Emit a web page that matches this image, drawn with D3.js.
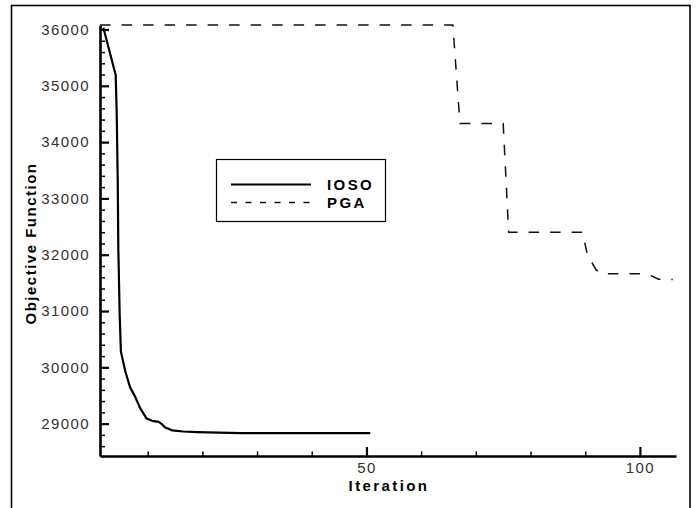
<!DOCTYPE html>
<html>
<head>
<meta charset="utf-8">
<script src="https://cdn.jsdelivr.net/npm/d3@7/dist/d3.min.js"></script>
<style>
  html, body { margin: 0; padding: 0; background: #fff; }
  svg { display: block; }
  text { font-family: "Liberation Sans", Arial, Helvetica, sans-serif; }
</style>
</head>
<body>
<svg id="chart" width="696" height="508"></svg>
<script>
// ---- data ----
const iosoIter  = [1.9, 4.15, 4.33, 4.52, 4.63, 4.88, 5.1, 5.9, 6.8, 7.7, 8.6, 9.8, 10.8, 12.0, 12.6, 13.2, 14.5, 16.5, 19, 27, 50.7];
const iosoValue = [36030, 35190, 34540, 33330, 32110, 30930, 30280, 29930, 29640, 29480, 29280, 29090, 29050, 29030, 28990, 28930, 28880, 28860, 28850, 28830, 28830];

const pgaIter  = [1.3, 65.8, 67.1, 75.0, 76.0, 89.5, 90.4, 92.0, 93.0, 100.6, 102.2, 103.4, 106.0];
const pgaValue = [36080, 36080, 34330, 34330, 32400, 32400, 32000, 31730, 31660, 31660, 31620, 31565, 31560];

const xMajorTicks = [50, 100];
const xMinorTicks = [10, 20, 30, 40, 60, 70, 80, 90];
const yMajorTicks = [29000, 30000, 31000, 32000, 33000, 34000, 35000, 36000];
const yMinorTicks = d3.range(28600, 36080, 200).filter(v => v % 1000 !== 0);

const seriesNames = ["IOSO", "PGA"];
const xTitle = "Iteration";
const yTitle = "Objective Function";

// ---- layout ----
const svg = d3.select("#chart");
const pLeft = 100, pRight = 676, pTop = 25, pBottom = 456;

const x = d3.scaleLinear().domain([1.28, 106.6]).range([pLeft, pRight]);
const y = d3.scaleLinear().domain([28425, 36080]).range([pBottom, pTop]);

// outer frame
svg.append("rect")
  .attr("x", 11.5).attr("y", 5.5)
  .attr("width", 678.5).attr("height", 530)
  .attr("fill", "#fff").attr("stroke", "#000").attr("stroke-width", 1.6);

// ---- axes ----
const yMinor = svg.append("g").attr("transform", `translate(${pLeft},0)`)
  .call(d3.axisLeft(y).tickValues(yMinorTicks).tickSizeInner(-5).tickSizeOuter(0).tickFormat(""));
yMinor.select(".domain").remove();
yMinor.selectAll("line").attr("stroke", "#000").attr("stroke-width", 1.5);

const yAxis = svg.append("g").attr("transform", `translate(${pLeft},0)`)
  .call(d3.axisLeft(y).tickValues(yMajorTicks).tickSizeInner(-9).tickSizeOuter(0).tickPadding(10).tickFormat(d3.format("d")));
yAxis.select(".domain").attr("stroke", "#000").attr("stroke-width", 2.6);
yAxis.selectAll(".tick line").attr("stroke", "#000").attr("stroke-width", 2.2);
yAxis.selectAll("text")
  .attr("font-size", 15).attr("fill", "#333")
  .style("letter-spacing", "1.4px");

const xMinor = svg.append("g").attr("transform", `translate(0,${pBottom})`)
  .call(d3.axisBottom(x).tickValues(xMinorTicks).tickSizeInner(-4.5).tickSizeOuter(0).tickFormat(""));
xMinor.select(".domain").remove();
xMinor.selectAll("line").attr("stroke", "#000").attr("stroke-width", 1.5);

const xAxis = svg.append("g").attr("transform", `translate(0,${pBottom})`)
  .call(d3.axisBottom(x).tickValues(xMajorTicks).tickSizeInner(-9).tickSizeOuter(0).tickPadding(6).tickFormat(d3.format("d")));
xAxis.select(".domain").attr("stroke", "#000").attr("stroke-width", 2.4);
xAxis.selectAll(".tick line").attr("stroke", "#000").attr("stroke-width", 2.2);
xAxis.selectAll("text")
  .attr("font-size", 15).attr("fill", "#333")
  .style("letter-spacing", "1.4px");

// axis titles
svg.append("text")
  .attr("x", (pLeft + pRight) / 2 + 1).attr("y", 491)
  .attr("text-anchor", "middle")
  .attr("font-size", 15).attr("font-weight", "bold").attr("fill", "#000")
  .style("letter-spacing", "2.4px")
  .text(xTitle);

svg.append("text")
  .attr("transform", `translate(35.5,${(pTop + pBottom) / 2 + 3}) rotate(-90)`)
  .attr("text-anchor", "middle")
  .attr("font-size", 15).attr("font-weight", "bold").attr("fill", "#000")
  .style("letter-spacing", "1.5px")
  .text(yTitle);

// ---- lines ----
const lineGen = d3.line().x(d => x(d[0])).y(d => y(d[1]));

const pgaData = pgaIter.map((it, i) => [it, pgaValue[i]]);
const iosoData = iosoIter.map((it, i) => [it, iosoValue[i]]);

svg.append("path")
  .datum(pgaData)
  .attr("d", lineGen)
  .attr("fill", "none").attr("stroke", "#111").attr("stroke-width", 1.5)
  .attr("stroke-dasharray", "10.5,11");

svg.append("path")
  .datum(iosoData)
  .attr("d", lineGen)
  .attr("fill", "none").attr("stroke", "#000").attr("stroke-width", 2.2)
  .attr("stroke-linejoin", "round");

// ---- legend ----
const lg = svg.append("g");
lg.append("rect")
  .attr("x", 216.5).attr("y", 159.5).attr("width", 169).attr("height", 62)
  .attr("fill", "#fff").attr("stroke", "#000").attr("stroke-width", 1.2);
lg.append("line")
  .attr("x1", 231).attr("x2", 311).attr("y1", 184.5).attr("y2", 184.5)
  .attr("stroke", "#000").attr("stroke-width", 2.2);
lg.append("line")
  .attr("x1", 231).attr("x2", 311).attr("y1", 202.5).attr("y2", 202.5)
  .attr("stroke", "#111").attr("stroke-width", 1.3)
  .attr("stroke-dasharray", "6,8.5");
lg.selectAll("text.leg").data(seriesNames).enter().append("text")
  .attr("class", "leg")
  .attr("x", 327).attr("y", (d, i) => 190 + i * 18)
  .attr("font-size", 15).attr("font-weight", "bold").attr("fill", "#000")
  .style("letter-spacing", "2.4px")
  .text(d => d);
</script>
</body>
</html>
